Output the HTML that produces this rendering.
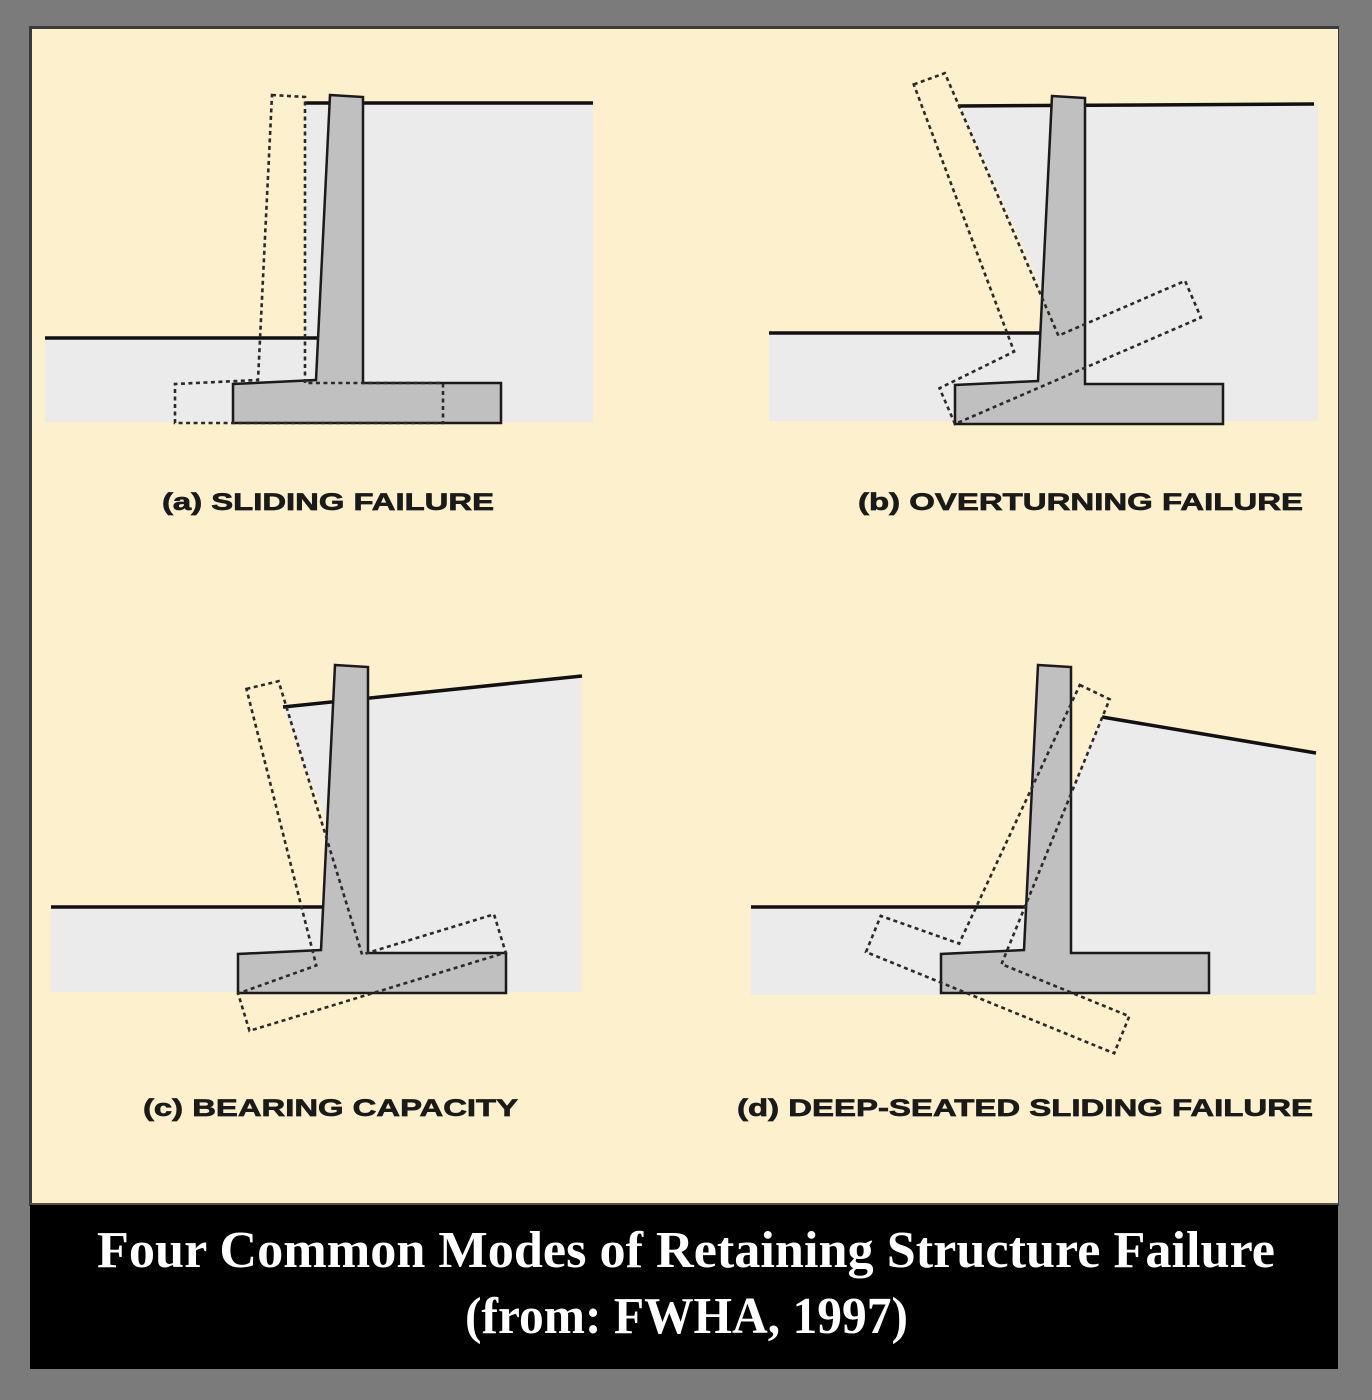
<!DOCTYPE html>
<html>
<head>
<meta charset="utf-8">
<style>
  html,body{margin:0;padding:0;background:#7b7b7b;}
  svg{display:block;}
</style>
</head>
<body>
<svg width="1372" height="1400" viewBox="0 0 1372 1400" xmlns="http://www.w3.org/2000/svg">
  <defs>
    <polygon id="wall" points="330,95 363,97 363,383 501,383 501,423 233,423 233,384 316,380"/>
  </defs>
  <!-- outer frame -->
  <rect x="0" y="0" width="1372" height="1400" fill="#7b7b7b"/>
  <rect x="29" y="26" width="1310" height="1180" fill="#3a3a3a"/>
  <rect x="32" y="29" width="1306" height="1176" fill="#fdf0cd"/>
  <!-- black caption -->
  <rect x="30" y="1204" width="1308" height="165" fill="#000"/>
  <rect x="30" y="1203" width="1308" height="2" fill="#5a5040"/>

  <!-- soils -->
  <g fill="#ebebeb">
    <polygon points="305,103 593,103 593,422 45,422 45,338 305,338"/>
    <polygon points="960,106 1318,104 1318,421 769,421 769,333 1045,333 1045,295"/>
    <polygon points="283,707 581,676 581,992 51,992 51,907 330,907 330,830"/>
    <polygon points="1102,717 1316,753 1316,995 751,995 751,907 1045,907 1045,794 1071,794"/>
  </g>

  <!-- ground lines -->
  <g stroke="#111" stroke-width="3.5" fill="none" stroke-linecap="butt">
    <line x1="305" y1="103" x2="593" y2="103"/>
    <line x1="45" y1="338" x2="318" y2="338"/>
    <line x1="958" y1="106" x2="1314" y2="104"/>
    <line x1="769" y1="333" x2="1042" y2="333"/>
    <line x1="283" y1="707" x2="582" y2="676"/>
    <line x1="51" y1="907" x2="325" y2="907"/>
    <line x1="1102" y1="717" x2="1316" y2="753"/>
    <line x1="751" y1="907" x2="1025" y2="907"/>
  </g>

  <!-- walls -->
  <g fill="#c0c0c0" stroke="#1a1a1a" stroke-width="2.5" stroke-linejoin="miter">
    <use href="#wall"/>
    <use href="#wall" transform="translate(722,1)"/>
    <use href="#wall" transform="translate(5,570)"/>
    <use href="#wall" transform="translate(708,570)"/>
  </g>

  <!-- dashed displaced walls -->
  <g fill="none" stroke="#2a2a2a" stroke-width="2.6" stroke-dasharray="4 3.5">
    <use href="#wall" transform="translate(-58,0)"/>
    <g transform="rotate(-23.4 955 424)">
      <use href="#wall" transform="translate(722,1)"/>
    </g>
    <g transform="matrix(0.956,-0.292,0.292,0.956,-268,151)">
      <use href="#wall" transform="translate(5,570)"/>
    </g>
    <g transform="matrix(0.926,0.378,-0.378,0.926,370,-323.2)">
      <use href="#wall" transform="translate(708,570)"/>
    </g>
  </g>

  <!-- labels -->
  <g font-family="'Liberation Sans', Arial, sans-serif" font-weight="bold" font-size="24.5" fill="#1a1a1a" stroke="#1a1a1a" stroke-width="0.7">
    <text x="162" y="510" textLength="332" lengthAdjust="spacingAndGlyphs">(a) SLIDING FAILURE</text>
    <text x="858" y="510" textLength="445" lengthAdjust="spacingAndGlyphs">(b) OVERTURNING FAILURE</text>
    <text x="143" y="1116" textLength="375" lengthAdjust="spacingAndGlyphs">(c) BEARING CAPACITY</text>
    <text x="737" y="1116" textLength="576" lengthAdjust="spacingAndGlyphs">(d) DEEP-SEATED SLIDING FAILURE</text>
  </g>

  <!-- caption -->
  <g font-family="'Liberation Serif', 'Times New Roman', serif" font-weight="bold" font-size="52" fill="#fff">
    <text x="97" y="1267" textLength="1178" lengthAdjust="spacingAndGlyphs">Four Common Modes of Retaining Structure Failure</text>
    <text x="465" y="1333" textLength="443" lengthAdjust="spacingAndGlyphs">(from: FWHA, 1997)</text>
  </g>
</svg>
</body>
</html>
